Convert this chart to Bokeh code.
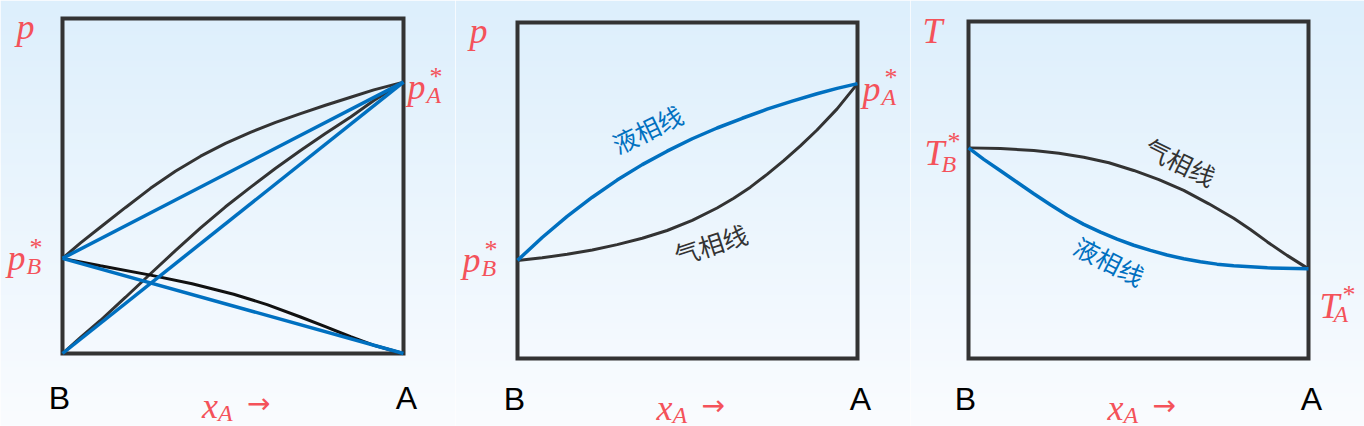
import numpy as np
from bokeh.plotting import figure
from bokeh.layouts import row
from bokeh.models import Range1d
from bokeh.core.properties import value
from bokeh.embed import file_html
from bokeh.resources import INLINE

# ---------------- data ----------------
# Panel 1: p-x diagram with partial pressures (x_A from 0 = B to 1 = A)
p1_pB = 0.284
p1_pA = 0.81
p1_total_x = [0.0, 0.053, 0.111, 0.185, 0.258, 0.331, 0.405, 0.478, 0.551, 0.625, 0.698, 0.771, 0.845, 0.913, 1.0]
p1_total_y = [0.284, 0.33, 0.377, 0.436, 0.493, 0.544, 0.589, 0.627, 0.66, 0.69, 0.716, 0.741, 0.765, 0.787, 0.81]
p1_partA_x = [0.0, 0.053, 0.111, 0.185, 0.258, 0.331, 0.405, 0.478, 0.551, 0.625, 0.698, 0.771, 0.845, 0.913, 1.0]
p1_partA_y = [0.0, 0.048, 0.0985, 0.168, 0.238, 0.307, 0.375, 0.438, 0.496, 0.553, 0.606, 0.657, 0.706, 0.755, 0.81]
p1_partB_x = [0.0, 0.111, 0.258, 0.380, 0.502, 0.600, 0.698, 0.771, 0.845, 0.918, 1.0]
p1_partB_y = [0.284, 0.262, 0.234, 0.208, 0.177, 0.146, 0.109, 0.08, 0.05, 0.023, 0.0]
p1_ideal_x = [0.0, 1.0]

# Panel 2: p-x diagram, liquid and vapour lines
p2_pB = 0.292
p2_pA = 0.818
p2_liq_x = [0.0, 0.0726, 0.146, 0.22, 0.293, 0.367, 0.44, 0.514, 0.587, 0.661, 0.734, 0.808, 0.881, 0.94, 1.0]
p2_liq_y = [0.292, 0.36, 0.423, 0.48, 0.531, 0.577, 0.617, 0.654, 0.686, 0.715, 0.742, 0.766, 0.788, 0.804, 0.818]
p2_vap_x = [0.0, 0.0726, 0.146, 0.22, 0.293, 0.367, 0.44, 0.514, 0.587, 0.636, 0.685, 0.734, 0.783, 0.832, 0.881, 0.94, 1.0]
p2_vap_y = [0.292, 0.2996, 0.31, 0.323, 0.339, 0.358, 0.381, 0.411, 0.448, 0.477, 0.51, 0.548, 0.589, 0.633, 0.68, 0.743, 0.818]

# Panel 3: T-x diagram
p3_TB = 0.625
p3_TA = 0.266
p3_vap_x = [0.0, 0.094, 0.192, 0.266, 0.339, 0.413, 0.486, 0.56, 0.633, 0.707, 0.78, 0.829, 0.879, 0.937, 1.0]
p3_vap_y = [0.625, 0.623, 0.617, 0.609, 0.597, 0.581, 0.558, 0.531, 0.499, 0.459, 0.416, 0.383, 0.346, 0.306, 0.266]
p3_liq_x = [0.0, 0.045, 0.094, 0.143, 0.192, 0.241, 0.29, 0.339, 0.388, 0.437, 0.486, 0.535, 0.584,
            0.633, 0.682, 0.731, 0.78, 0.879, 1.0]
p3_liq_y = [0.625, 0.591, 0.557, 0.523, 0.489, 0.456, 0.425, 0.398, 0.375, 0.354, 0.336, 0.321, 0.307,
            0.296, 0.287, 0.28, 0.275, 0.269, 0.266]

liq_label = "液相线"
vap_label = "气相线"

# ---------------- style ----------------
RED = "#f4525a"
BLUE = "#0070c0"
DARK = "#333333"
H = 426
SERIF = value("Liberation Serif")
SANS = value("Liberation Sans")
ARROWF = value("DejaVu Sans")
CJK = value("Noto Sans CJK SC")


def make_fig(fx0, w, bx0, bx1, bt, bb):
    sx = bx1 - bx0
    sy = bb - bt
    xr = Range1d(-(bx0 - fx0) / sx, (fx0 + w - bx0) / sx)
    yr = Range1d(-(H - bb) / sy, 1 + bt / sy)
    p = figure(width=w, height=H, x_range=xr, y_range=yr, output_backend="svg",
               toolbar_location=None, min_border=0, outline_line_color=None,
               x_axis_type=None, y_axis_type=None)
    p.xgrid.visible = False
    p.ygrid.visible = False
    # vertical background gradient (light blue at top -> near white at bottom)
    top = np.array([221, 239, 252], dtype=float)
    bot = np.array([250, 252, 255], dtype=float)
    n = 213
    img = np.empty((n, 1), dtype=np.uint32)
    view = img.view(dtype=np.uint8).reshape((n, 1, 4))
    for i in range(n):
        t = i / (n - 1)  # 0 at bottom row
        c = bot + (top - bot) * t
        view[i, 0, 0:3] = c.astype(np.uint8)
        view[i, 0, 3] = 255
    p.image_rgba(image=[img], x=xr.start, y=yr.start, dw=xr.end - xr.start, dh=yr.end - yr.start)
    return p


def box(p):
    p.quad(left=[0], right=[1], bottom=[0], top=[1], fill_color=None,
           line_color=DARK, line_width=4, line_join="miter")


def txt(p, x, y, s, dx, dy, font=SERIF, size="36px", color=RED, style="italic", align="left",
        baseline="alphabetic", angle=0.0):
    p.text(x=[x], y=[y], text=[s], x_offset=dx, y_offset=dy, text_font=font,
           text_font_size=size, text_color=color, text_font_style=style,
           text_align=align, text_baseline=baseline, angle=angle)


def sym(p, x, y, main, sub, dx, dy, sub_dx=19, sub_dy=8, star_dx=22, star_dy=-11):
    txt(p, x, y, main, dx, dy)
    txt(p, x, y, sub, dx + sub_dx, dy + sub_dy, size="24px")
    txt(p, x, y, "*", dx + star_dx, dy + star_dy, size="26px", style="normal")


def bottom_labels(p, dy_ba, dy_x):
    txt(p, 0, 0, "B", -3, dy_ba, font=SANS, size="32px", color="#000000", style="normal", align="center")
    txt(p, 1, 0, "A", 3, dy_ba, font=SANS, size="32px", color="#000000", style="normal", align="center")
    txt(p, 0.5, 0, "x", -31, dy_x)
    txt(p, 0.5, 0, "A", -15, dy_x + 7, size="24px")
    txt(p, 0.5, 0, "→", 14, dy_x - 2, font=ARROWF, style="normal", size="28px")


# ---------------- panel 1 ----------------
f1 = make_fig(0, 455, 62, 403, 18, 353)
box(f1)
f1.line(p1_total_x, p1_total_y, line_color=DARK, line_width=3)
f1.line(p1_partA_x, p1_partA_y, line_color=DARK, line_width=3)
f1.line(p1_partB_x, p1_partB_y, line_color="#111111", line_width=3)
f1.line(p1_ideal_x, [p1_pB, p1_pA], line_color=BLUE, line_width=3.5)
f1.line(p1_ideal_x, [0.0, p1_pA], line_color=BLUE, line_width=3.5)
f1.line(p1_ideal_x, [p1_pB, 0.0], line_color=BLUE, line_width=3.5)
txt(f1, 0, 1, "p", -46, 8)
sym(f1, 0, p1_pB, "p", "B", -55, 0)
sym(f1, 1, p1_pA, "p", "A", 4, 5)
bottom_labels(f1, 44, 52)

# ---------------- panel 2 ----------------
f2 = make_fig(455, 455, 517, 857, 22, 358)
box(f2)
f2.line(p2_vap_x, p2_vap_y, line_color=DARK, line_width=3)
f2.line(p2_liq_x, p2_liq_y, line_color=BLUE, line_width=3.5)
txt(f2, 0, 1, "p", -48, 8)
sym(f2, 0, p2_pB, "p", "B", -55, 0)
sym(f2, 1, p2_pA, "p", "A", 5, 5)
txt(f2, 0.381, 0.684, liq_label, 0, 0, font=CJK, size="25px", color=BLUE, style="normal",
    align="center", baseline="middle", angle=np.deg2rad(26))
txt(f2, 0.568, 0.342, vap_label, 0, 0, font=CJK, size="25px", color=DARK, style="normal",
    align="center", baseline="middle", angle=np.deg2rad(18))
bottom_labels(f2, 40, 49)

# ---------------- panel 3 ----------------
f3 = make_fig(910, 454, 968, 1308, 21, 358)
box(f3)
f3.line(p3_vap_x, p3_vap_y, line_color=DARK, line_width=3)
f3.line(p3_liq_x, p3_liq_y, line_color=BLUE, line_width=3.5)
txt(f3, 0, 1, "T", -46, 9)
sym(f3, 0, p3_TB, "T", "B", -44, 5, sub_dx=17, sub_dy=11, star_dx=23)
sym(f3, 1, p3_TA, "T", "A", 11, 37, sub_dx=14, sub_dy=8, star_dx=23)
txt(f3, 0.624, 0.585, vap_label, 0, 0, font=CJK, size="25px", color=DARK, style="normal",
    align="center", baseline="middle", angle=np.deg2rad(-26))
txt(f3, 0.415, 0.291, liq_label, 0, 0, font=CJK, size="25px", color=BLUE, style="normal",
    align="center", baseline="middle", angle=np.deg2rad(-27))
bottom_labels(f3, 40, 49)

layout = row(f1, f2, f3)
open("out.html", "w").write(file_html(layout, INLINE))
